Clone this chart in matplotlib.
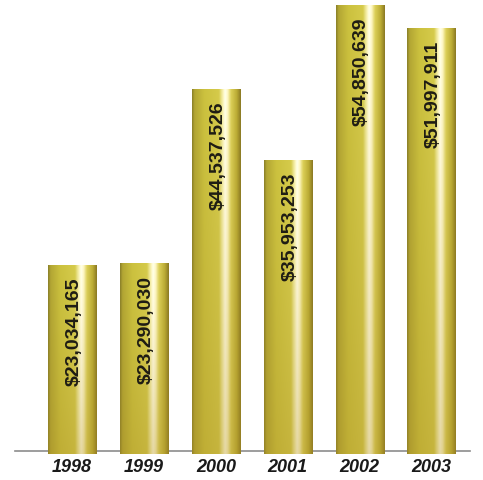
import numpy as np
import matplotlib
matplotlib.use("Agg")
import matplotlib.pyplot as plt

years = ["1998", "1999", "2000", "2001", "2002", "2003"]
amounts = [23034165, 23290030, 44537526, 35953253, 54850639, 51997911]

# horizontal shading across a cylinder (fraction of width -> rgb)
stops = [0.0, 0.05, 0.25, 0.55, 0.63, 0.68, 0.73, 0.8, 0.92, 1.0]
reds = [135, 172, 196, 205, 238, 252, 245, 212, 180, 135]
grns = [125, 160, 186, 195, 232, 248, 238, 200, 165, 118]
blus = [40, 50, 60, 72, 170, 225, 190, 85, 50, 35]

fig = plt.figure(figsize=(4.83, 4.81), dpi=100)
ax = fig.add_axes([0, 26 / 481, 1, 455 / 481])
x = np.arange(len(years))
bars = ax.bar(x, amounts, width=0.67, facecolor="none", edgecolor="none", zorder=3)

u = np.linspace(0, 1, 80)
prof = np.stack([np.interp(u, stops, reds), np.interp(u, stops, grns),
                 np.interp(u, stops, blus)], axis=-1) / 255.0
v = np.linspace(0, 1, 120)[:, None, None]  # 0 = top, 1 = bottom
tint = np.array([0.76, 0.62, 0.16])
for b, val in zip(bars, amounts):
    img = prof[None, :, :] * (1 - 0.3 * v**1.5) + tint * 0.3 * v**1.5
    img = np.clip(img * (1.04 - 0.06 * v), 0, 1)
    x0, w = b.get_x(), b.get_width()
    im = ax.imshow(img, extent=(x0, x0 + w, 0, val), aspect="auto",
                   interpolation="bilinear", zorder=2)
    im.set_clip_path(b)
    ax.text(x0 + w / 2 + 0.03, val - 1.4e6, f"${val:,}", rotation=90,
            ha="center", va="top", fontsize=14, fontweight="bold",
            family="Liberation Sans", color="#1e1c14", zorder=4)

ax.axhline(0.35e6, xmin=15 / 483, xmax=470 / 483, color="#8c8c8c", lw=1.2, zorder=1)
ax.set_xlim(-72 / 71.9, (483 - 72) / 71.9)
ax.set_ylim(0, 455 / 8.19 * 1e6)
ax.set_xticks(x, years)
ax.set_yticks([])
ax.tick_params(length=0, pad=3)
for lab in ax.get_xticklabels():
    lab.set_fontsize(13)
    lab.set_fontstyle("italic")
    lab.set_fontweight("bold")
    lab.set_family("Liberation Sans")
    lab.set_color("#1a1a1a")
for s in ax.spines.values():
    s.set_visible(False)
ax.patch.set_visible(False)
fig.savefig("out.png", dpi=100, facecolor="white")
